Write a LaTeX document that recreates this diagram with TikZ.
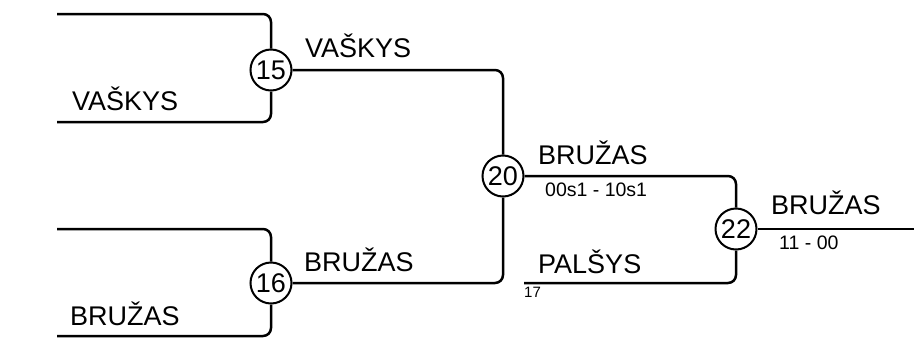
\documentclass[tikz,border=0pt]{standalone}
\usepackage{fontspec}
\setmainfont{Liberation Sans}
\begin{document}
\begin{tikzpicture}[x=1pt,y=-1pt,
  conn/.style={line width=2.5pt,rounded corners=8pt},
  match/.style={circle,draw,line width=2pt,minimum size=41pt,inner sep=0pt,font=\fontsize{27}{30}\selectfont,fill=white},
  plabel/.style={anchor=base west,inner sep=0pt,font=\fontsize{27}{31}\selectfont},
  slabel/.style={anchor=base west,inner sep=0pt,font=\fontsize{19.5}{22}\selectfont},
  tlabel/.style={anchor=base west,inner sep=0pt,font=\fontsize{15}{18}\selectfont}]
\useasboundingbox (0,0) rectangle (914,338);
\coordinate (a1) at (57,14);
\coordinate (a2) at (57,122);
\coordinate (b1) at (57,229);
\coordinate (b2) at (57,336);
\coordinate (p17) at (524,283);
\coordinate (e) at (914,229);
\node[match] (c15) at (271,70) {15};
\node[match] (c16) at (271,283) {16};
\node[match] (c20) at (503,176) {20};
\node[match] (c22) at (736,229) {22};
\draw[conn] (a1) -| (c15);
\draw[conn] (a2) -| (c15);
\draw[conn] (b1) -| (c16);
\draw[conn] (b2) -| (c16);
\draw[conn] (c15) -| (c20);
\draw[conn] (c16) -| (c20);
\draw[conn] (c20) -| (c22);
\draw[conn] (p17) -| (c22);
\draw[conn] (c22) -- (e);
\node[plabel] (t1) at (305,57) {VAŠKYS};
\node[plabel] (t2) at (72,110) {VAŠKYS};
\node[plabel] (t3) at (304,271) {BRUŽAS};
\node[plabel] (t4) at (70,325) {BRUŽAS};
\node[plabel] (t5) at (538,164) {BRUŽAS};
\node[slabel] (s1) at (545,196) {00s1 - 10s1};
\node[plabel] (t6) at (538,273) {PALŠYS};
\node[tlabel] (s2) at (524,297) {17};
\node[plabel] (t7) at (771,214) {BRUŽAS};
\node[slabel] (s3) at (779,249) {11 - 00};
\end{tikzpicture}
\end{document}
